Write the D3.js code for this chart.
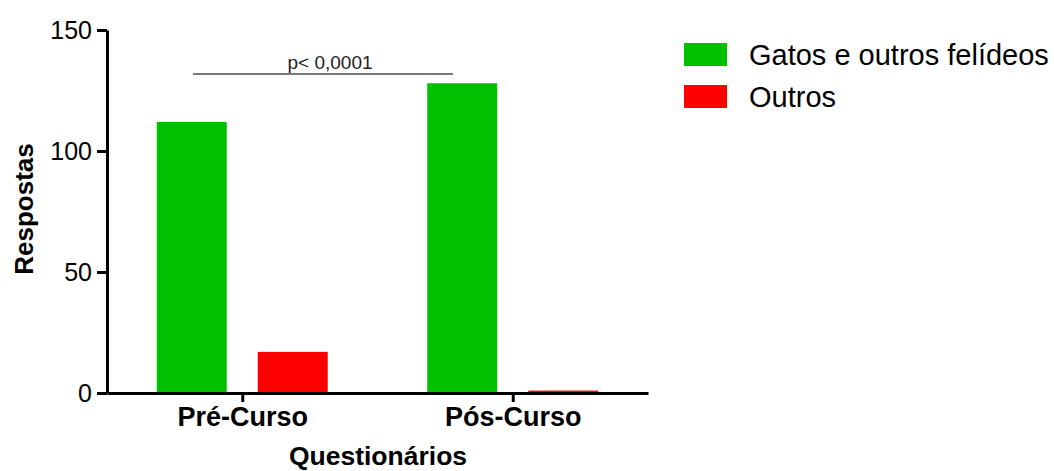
<!DOCTYPE html>
<html>
<head>
<meta charset="utf-8">
<script src="https://d3js.org/d3.v7.min.js"></script>
<style>
    body { margin: 0; background: #fff; }
    svg text { font-family: Arial, "Liberation Sans", sans-serif; fill: #000; }
</style>
</head>
<body>
<svg id="chart"></svg>
<script>
    // data
    var groups = ["Pré-Curso", "Pós-Curso"];
    var seriesNames = ["Gatos e outros felídeos", "Outros"];
    var seriesColors = ["#00c000", "#ff0000"];
    var gatos = [112, 128];
    var outros = [17, 1];
    var yTicks = [0, 50, 100, 150];
    var pText = "p< 0,0001";

    var screen = {width: 1054, height: 471};
    var margins = {left: 107, top: 30, right: 406, bottom: 78};

    var svg = d3.select("#chart")
        .attr("width", screen.width)
        .attr("height", screen.height);

    var y = d3.scaleLinear()
        .domain([0, 150])
        .range([screen.height - margins.bottom, margins.top]);

    var x = d3.scalePoint()
        .domain(groups)
        .range([margins.left, screen.width - margins.right])
        .padding(0.5);

    var inner = d3.scaleBand()
        .domain(seriesNames)
        .range([-85.5, 85.5])
        .paddingInner(0.307);

    var rows = [];
    groups.forEach(function(g, i) {
        rows.push({group: g, series: seriesNames[0], value: gatos[i], color: seriesColors[0]});
        rows.push({group: g, series: seriesNames[1], value: outros[i], color: seriesColors[1]});
    });

    // bars
    svg.append("g").selectAll("rect")
        .data(rows)
        .enter()
        .append("rect")
        .attr("x", function(d) { return x(d.group) + inner(d.series); })
        .attr("y", function(d) { return y(d.value); })
        .attr("width", inner.bandwidth())
        .attr("height", function(d) { return y(0) - y(d.value); })
        .attr("fill", function(d) { return d.color; });

    // y axis
    var yAxis = svg.append("g")
        .attr("transform", "translate(" + margins.left + ",0)")
        .call(d3.axisLeft(y).tickValues(yTicks).tickSize(10).tickSizeOuter(0).tickPadding(5));
    yAxis.select(".domain").attr("stroke-width", 3).attr("stroke", "#000");
    yAxis.selectAll(".tick line").attr("stroke-width", 3).attr("stroke", "#000");
    yAxis.selectAll(".tick text")
        .style("font-size", "25px")
        .style("font-family", "Arial, 'Liberation Sans', sans-serif");

    // x axis
    var xAxis = svg.append("g")
        .attr("transform", "translate(0," + y(0) + ")")
        .call(d3.axisBottom(x).tickSize(9).tickSizeOuter(0).tickPadding(5));
    xAxis.select(".domain").attr("stroke-width", 3).attr("stroke", "#000");
    xAxis.selectAll(".tick line").attr("stroke-width", 3).attr("stroke", "#000");
    xAxis.selectAll(".tick text")
        .style("font-size", "27px")
        .style("font-weight", "bold")
        .style("font-family", "Arial, 'Liberation Sans', sans-serif");

    // axis titles
    svg.append("text")
        .attr("x", 378)
        .attr("y", 465)
        .attr("text-anchor", "middle")
        .style("font-size", "26.5px")
        .style("font-weight", "bold")
        .text("Questionários");

    svg.append("text")
        .attr("transform", "translate(33,209) rotate(-90)")
        .attr("text-anchor", "middle")
        .style("font-size", "26px")
        .style("font-weight", "bold")
        .text("Respostas");

    // significance bar
    svg.append("line")
        .attr("x1", 193).attr("x2", 453)
        .attr("y1", 74).attr("y2", 74)
        .attr("stroke", "#7a7a7a")
        .attr("stroke-width", 2);
    svg.append("text")
        .attr("x", 330)
        .attr("y", 69)
        .attr("text-anchor", "middle")
        .style("font-size", "19px")
        .style("fill", "#222")
        .text(pText);

    // legend
    var legend = svg.append("g").selectAll("g")
        .data(seriesNames)
        .enter()
        .append("g")
        .attr("transform", function(d, i) { return "translate(684," + (43 + i * 42) + ")"; });
    legend.append("rect")
        .attr("width", 43)
        .attr("height", 23)
        .attr("fill", function(d, i) { return seriesColors[i]; });
    legend.append("text")
        .attr("x", 65)
        .attr("y", 22)
        .style("font-size", "29px")
        .text(function(d) { return d; });
</script>
</body>
</html>
